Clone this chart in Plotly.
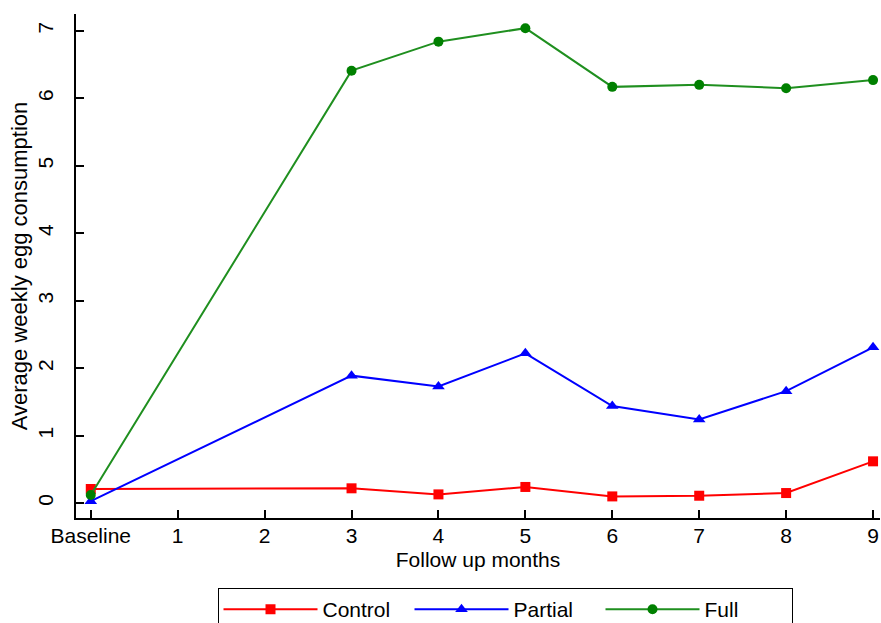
import plotly.graph_objects as go

months = [0, 3, 4, 5, 6, 7, 8, 9]
tick_vals = [0, 1, 2, 3, 4, 5, 6, 7, 8, 9]
tick_text = ["Baseline", "1", "2", "3", "4", "5", "6", "7", "8", "9"]

control = [0.21, 0.22, 0.13, 0.24, 0.10, 0.11, 0.15, 0.62]
partial = [0.03, 1.89, 1.73, 2.22, 1.44, 1.24, 1.66, 2.31]
full = [0.12, 6.41, 6.84, 7.04, 6.17, 6.20, 6.15, 6.27]

FONT = "Liberation Sans, Arial, sans-serif"

fig = go.Figure()
fig.add_trace(go.Scatter(x=months, y=control, name="Control", mode="lines+markers",
                         line=dict(color="#ff0000", width=2),
                         marker=dict(symbol="square", size=10, color="#ff0000")))
fig.add_trace(go.Scatter(x=months, y=partial, name="Partial", mode="lines+markers",
                         line=dict(color="#0000ff", width=2),
                         marker=dict(symbol="triangle-up", size=11, color="#0000ff")))
fig.add_trace(go.Scatter(x=months, y=full, name="Full", mode="lines+markers",
                         line=dict(color="#1f8f1f", width=2),
                         marker=dict(symbol="circle", size=10, color="#008000")))

fig.update_layout(
    width=881, height=623,
    margin=dict(l=76, r=1, t=14, b=105, autoexpand=False),
    paper_bgcolor="white", plot_bgcolor="white",
    font=dict(family=FONT, size=21, color="black"),
    showlegend=True,
    legend=dict(orientation="h", x=0.176, xanchor="left", y=-0.139, yanchor="top",
                bordercolor="black", borderwidth=1, bgcolor="white",
                font=dict(size=21), entrywidth=82, itemwidth=94,
                tracegroupgap=0),
    xaxis=dict(range=[-0.17, 9.08], tickmode="array", tickvals=tick_vals, ticktext=tick_text,
               ticks="inside", ticklen=8, tickwidth=1.5, tickcolor="black",
               showline=True, linecolor="black", linewidth=1.5, showgrid=False, zeroline=False,
               title=dict(text="Follow up months", standoff=6, font=dict(size=21)),
               tickfont=dict(size=21), ticklabelstandoff=-2, automargin=True),
    yaxis=dict(range=[-0.22, 7.25], tickmode="array", tickvals=[0, 1, 2, 3, 4, 5, 6, 7],
               ticks="inside", ticklen=8, tickwidth=1.5, tickcolor="black", tickangle=-90,
               showline=True, linecolor="black", linewidth=1.5, showgrid=False, zeroline=False,
               title=dict(text="Average weekly egg consumption", standoff=0, font=dict(size=22)),
               tickfont=dict(size=21), ticklabelstandoff=13, automargin=False),
)

fig.write_html("out.html", config={"displayModeBar": False},
               post_script="document.body.style.margin='0px';")
